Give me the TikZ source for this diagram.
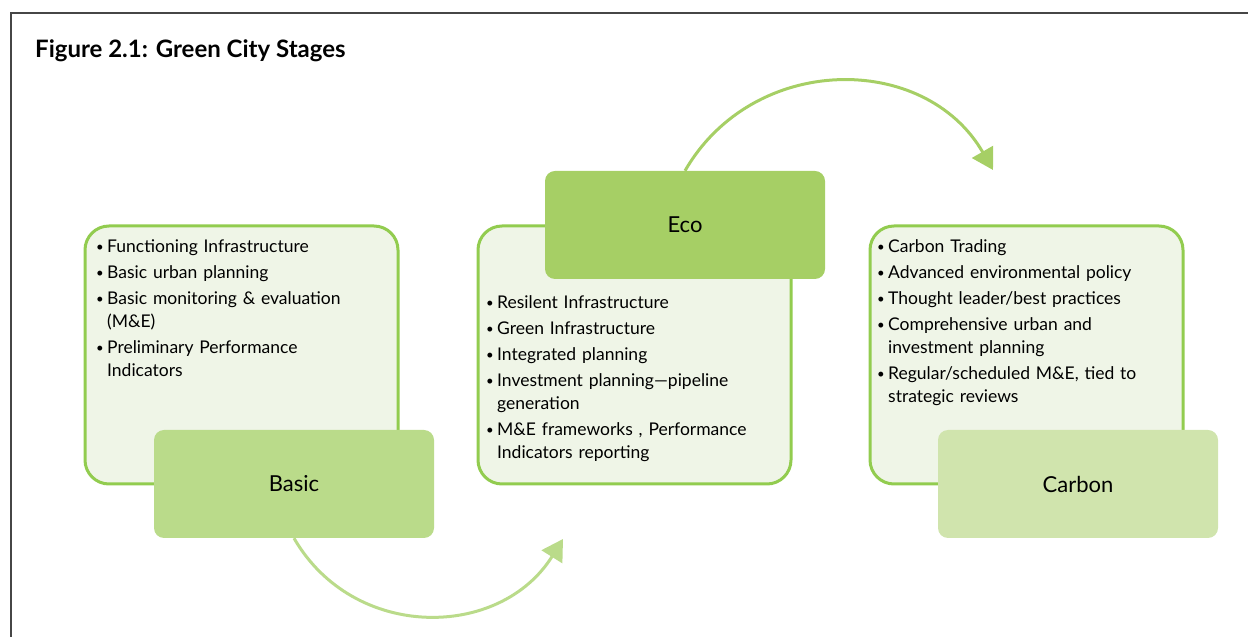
\documentclass[tikz,border=0pt]{standalone}
\usepackage{fontspec}
\setmainfont{Lato}
\usepackage{graphicx}
\usepackage{tikz}
\usetikzlibrary{positioning}
\usetikzlibrary{arrows.meta}

\definecolor{edgegreen}{RGB}{146,204,79}
\definecolor{paleground}{RGB}{239,245,231}
\definecolor{basicfill}{RGB}{186,219,138}
\definecolor{ecofill}{RGB}{166,207,101}
\definecolor{carbonfill}{RGB}{208,228,173}
\definecolor{framegray}{RGB}{70,70,70}

\newcommand{\bitem}[1]{\par\hangindent=11pt\hangafter=1\noindent
  \makebox[11pt][l]{\raisebox{1pt}{\scalebox{0.75}{\textbullet}}}#1}

\begin{document}
\begin{tikzpicture}[x=1pt, y=1pt,
    listbox/.style={draw=edgegreen, line width=3pt, fill=paleground, rounded corners=24pt,
      minimum width=313pt, minimum height=258pt, inner sep=0pt},
    stagebox/.style={rounded corners=10pt, minimum width=280pt, minimum height=108pt,
      inner sep=0pt, font=\fontsize{22}{26}\selectfont},
    listtext/.style={anchor=north west, inner sep=0pt, text width=300pt,
      font=\fontsize{17.5}{23}\selectfont, execute at begin node=\setlength{\parskip}{3pt}\raggedright},
    stagearrow/.style={line width=3pt, -{Triangle[length=21pt, width=24pt]}}]
    \useasboundingbox (0,0) rectangle (1248,637);
    % frame and title
    \draw[framegray, line width=2pt] (11,0) |- (1248,623.5);
    \node[anchor=base west, inner sep=0pt, font=\fontsize{24}{28}\selectfont\bfseries] (title) at (35,579)
      {Figure 2.1: Green City Stages};

    % pale list boxes
    \node[listbox] (basiclist) at (241.5,282) {};
    \node[listbox, right=77pt of basiclist] (ecolist) {};
    \node[listbox, right=76pt of ecolist] (carbonlist) {};

    % stage boxes
    \node[stagebox, fill=basicfill] (basic) at (294,153) {Basic};
    \node[stagebox, fill=ecofill] (eco) at (685,412) {Eco};
    \node[stagebox, fill=carbonfill] (carbon) at (1078,153) {Carbon};

    % bullet lists
    \node[listtext] (basictext) at (96,411) {%
      \bitem{Functioning Infrastructure}
      \bitem{Basic urban planning}
      \bitem{Basic monitoring \& evaluation\newline (M\&E)}
      \bitem{Preliminary Performance\newline Indicators}\par};
    \node[listtext] (ecotext) at (486,355) {%
      \bitem{Resilent Infrastructure}
      \bitem{Green Infrastructure}
      \bitem{Integrated planning}
      \bitem{Investment planning—pipeline\newline generation}
      \bitem{M\&E frameworks , Performance\newline Indicators reporting}\par};
    \node[listtext] (carbontext) at (877,411) {%
      \bitem{Carbon Trading}
      \bitem{Advanced environmental policy}
      \bitem{Thought leader/best practices}
      \bitem{Comprehensive urban and\newline investment planning}
      \bitem{Regular/scheduled M\&E, tied to\newline strategic reviews}\par};

    % curved arrows between stages
    \coordinate (tipone) at (563,98);
    \coordinate (tiptwo) at (993,467);
    \draw[stagearrow, basicfill] (basic.south) to[out=-60, in=-122, looseness=1.13] (tipone);
    \draw[stagearrow, ecofill] (eco.north) to[out=60, in=120, looseness=1.13] (tiptwo);
\end{tikzpicture}
\end{document}
